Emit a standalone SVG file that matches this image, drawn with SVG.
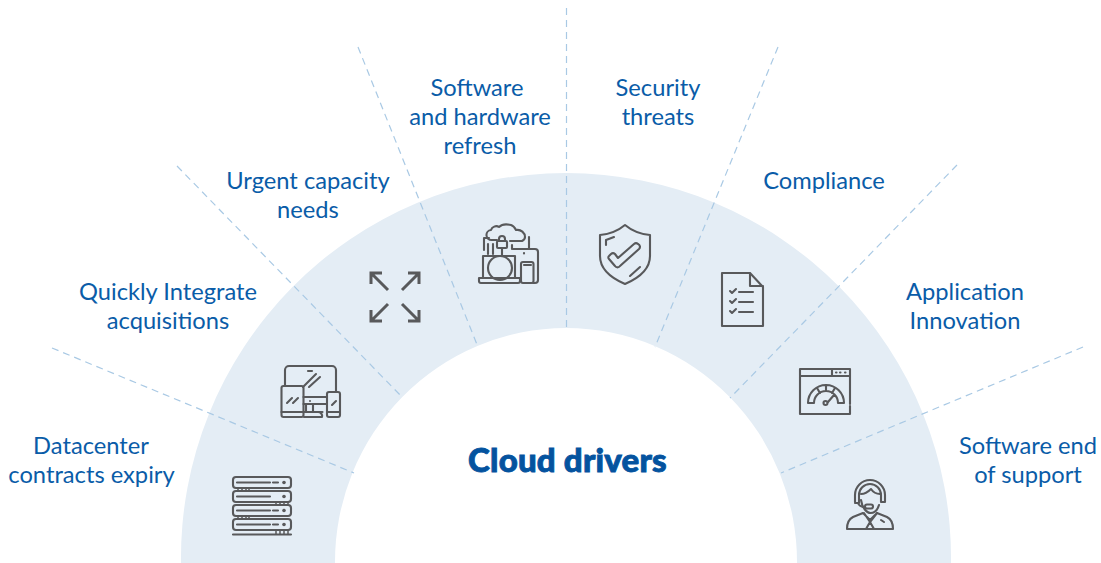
<svg xmlns="http://www.w3.org/2000/svg" width="1101" height="563" viewBox="0 0 1101 563">
<style>
.l{font-family:"Lato","Open Sans","Liberation Sans",sans-serif;font-size:23.7px;fill:#0a5ca8;text-anchor:middle}
.t{font-family:"Lato","Roboto","Liberation Sans",sans-serif;font-size:33px;font-weight:900;fill:#04539f;stroke:#04539f;stroke-width:.9;letter-spacing:.2px;text-anchor:middle}
.c line{stroke:#a9c9e4;stroke-width:1.2;stroke-dasharray:7 5;fill:none}
.i{fill:none;stroke:#58595b;stroke-width:2.1;stroke-linecap:round;stroke-linejoin:round}
.i .f{fill:#58595b;stroke:none}
</style>
<rect width="1101" height="563" fill="#fff"/>
<g id="band"><path d="M181 563A385 385 0 0 1 566 173A385 385 0 0 1 951 563H797A231 234 0 0 0 566 328A231 234 0 0 0 335 563Z" fill="#e4edf5"/></g>
<g id="connectors" class="c">
<line x2="354" y2="473" x1="52" y1="348"/>
<line x2="403" y2="398" x1="177" y1="166"/>
<line x2="478" y2="347" x1="358" y1="47"/>
<line x2="566.500" y2="328" x1="566.500" y1="8"/>
<line x2="655" y2="347" x1="778" y1="47"/>
<line x2="730" y2="398" x1="957" y1="165"/>
<line x2="781" y2="473" x1="1083" y1="347"/>
</g>
<g id="datacenter">
<text class="l" x="91" y="454">Datacenter</text><text class="l" x="91.500" y="483">contracts expiry</text>
<g class="i">
<rect x="233" y="477" width="58" height="11" rx="3"/><rect x="233" y="491" width="58" height="11" rx="3"/><rect x="233" y="505" width="58" height="11" rx="3"/><rect x="233" y="519" width="58" height="11" rx="3"/>
<path d="M237 482.500h33M273 482.500h5M237 496.500h33M237 510.500h33M273 510.500h5M237 524.500h33M273 524.500h5M233 534.500h58"/>
<path d="M238 488v2M242 488v2M246 488v2M249 488v2M276 502v2M280 502v2M284 502v2M288 502v2M238 516v2M242 516v2M246 516v2M249 516v2M276 530v4M280 530v4M284 530v4M288 530v4" stroke-width="1.500"/>
<circle class="f" cx="284" cy="482.500" r="1.800"/><circle class="f" cx="284" cy="496.500" r="1.800"/><circle class="f" cx="284" cy="510.500" r="1.800"/><circle class="f" cx="284" cy="524.500" r="1.800"/>
</g></g>
<g id="integrate">
<text class="l" x="168" y="300">Quickly Integrate</text><text class="l" x="168" y="329">acquisitions</text>
<g class="i">
<path d="M285 386V370a4 4 0 0 1 4-4h43a4 4 0 0 1 4 4v22"/>
<path d="M308 371h4"/>
<rect x="281.500" y="386" width="22" height="31" rx="2"/><path d="M281.500 412h41M313 412h5a4 4 0 0 1 4 5h-18"/>
<path d="M303.500 397h23.500M303.500 404h23.500M306 404v8M313 404v8"/>
<path d="M303 387l13-13M309 387l11-10"/>
<path d="M287 403l5-5M293 403l5-5"/>
<rect x="327" y="392" width="13" height="25" rx="2"/><path d="M327 412h13M332 405l4-4"/>
<circle class="f" cx="310" cy="401" r="1"/>
</g></g>
<g id="capacity">
<text class="l" x="308" y="189">Urgent capacity</text><text class="l" x="308" y="218">needs</text>
<g class="i" style="stroke-width:3;stroke-linecap:butt;stroke-linejoin:miter">
<path d="M388 290L371 273M371 284V273H382"/><path d="M402 290L419 273M408 273H419V284"/>
<path d="M388 304L371 321M371 310V321H382"/><path d="M402 304L419 321M408 321H419V310"/>
</g></g>
<g id="refresh">
<text class="l" x="477" y="96">Software</text><text class="l" x="480" y="125">and hardware</text><text class="l" x="480" y="154">refresh</text>
<g class="i">
<path d="M497 240h-5a5 5 0 0 1-1-10c1-3 5-5 8-3 3-3 8-3 12-2 3 1 4 3 5 5 5-1 9 3 9 7 0 2-1 3-3 4h-12"/>
<path d="M484 250v-12h5M529 237v12M488 244v10M493 244v10M512 245v4"/>
<rect x="497" y="241" width="10" height="7" rx="1"/><path d="M499 241v-2a3 3 0 0 1 6 0v2M502 248v7"/>
<path d="M483 278V256h32v22"/><circle cx="500" cy="268" r="12"/>
<path d="M479 278h41v3a2 2 0 0 1-2 2h-37a2 2 0 0 1-2-2z"/>
<path d="M513 249h22a3 3 0 0 1 3 3v28a3 3 0 0 1-3 3h-2"/>
<rect x="521" y="262" width="12.500" height="21" rx="2"/><path d="M524 265h7"/>
<path d="M524 253v.5"/>
</g></g>
<g id="security">
<text class="l" x="658" y="96">Security</text><text class="l" x="658" y="125">threats</text>
<g class="i">
<path d="M625 225c6 5 14 9 25 10v21c0 13-11 22-25 28-14-6-25-15-25-28v-21c11-1 19-5 25-10z"/>
<path d="M606 245v-5l8-3"/>
<path d="M611 254l-2 2a2 2 0 0 0 0 3l6 7a3 3 0 0 0 5 0l19-17a3 3 0 0 0-1-5 3 3 0 0 0-4 0l-16 14-3-4a3 3 0 0 0-4 0z"/>
<path d="M630 276l10-9"/>
</g></g>
<g id="compliance">
<text class="l" x="824" y="189">Compliance</text>
<g class="i">
<path d="M750 273H722V326H763V287L750 273V286H763"/>
<path d="M730 291l2 2 4-4M739 292h14M730 301l2 2 4-4M739 302h14M730 311l2 2 4-4M739 312h14"/>
</g></g>
<g id="innovation">
<text class="l" x="965" y="300">Application</text><text class="l" x="965" y="329">Innovation</text>
<g class="i">
<path d="M850 404V369H800V414H850V406M800 376H850M832 369V376"/>
<path d="M836 372.500h.5M840 372.500h.5M845 372.500h.5"/>
<path d="M808 403a18 18 0 0 1 36 0h-6a12 12 0 0 0-24 0zM817 388l3 5M835 388l-3 5M826 385v6M828 402l6-7"/>
<circle cx="825.500" cy="403" r="2"/>
</g></g>
<g id="support">
<text class="l" x="1028" y="454">Software end</text><text class="l" x="1028" y="483">of support</text>
<g class="i">
<path d="M855 502v-7a15 15 0 0 1 30 0v7h-4V495a11 11 0 0 0-22 0v8h-4"/>
<path d="M861 494c5 0 8-3 10-5 2 3 5 5 9 5"/>
<path d="M861 500c1 8 6 13 9.500 13s7-3 8.500-8"/>
<path d="M858 503c1 3 3 4 7 4"/><rect x="865" y="504.500" width="8" height="4" rx="2"/>
<path d="M863 513l-10 4c-4 2-6 7-6 12h46c0-5-2-10-6-12l-10-4l-7 7-7-7zM864 513l6 9M877 513l-7 9M866 529l4-7 4 7M881 520l3 2"/>
</g></g>
<g id="title"><text class="t" x="567.500" y="472">Cloud drivers</text></g>
</svg>
